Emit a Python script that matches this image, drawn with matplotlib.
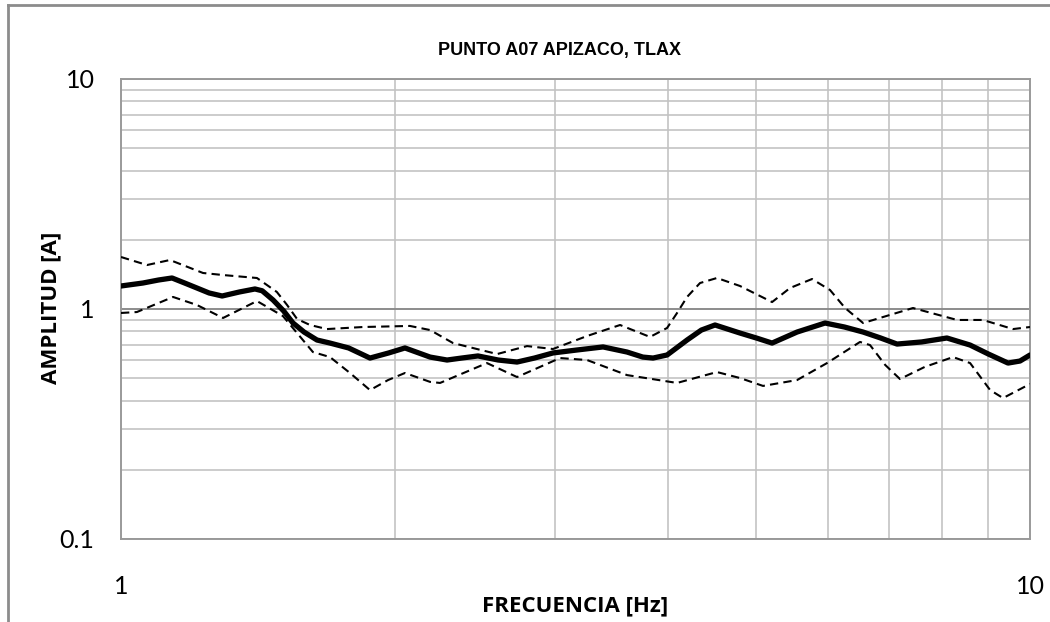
import matplotlib
matplotlib.use("Agg")
import matplotlib.pyplot as plt
from matplotlib.ticker import LogLocator, NullFormatter, FixedLocator, FixedFormatter
from matplotlib.lines import Line2D

# curva promedio (H/V)
f_prom = [1.00, 1.057, 1.10, 1.138, 1.175, 1.212, 1.25, 1.292, 1.35, 1.404, 1.43, 1.470,
          1.51, 1.546, 1.59, 1.643, 1.698, 1.78, 1.879, 1.97, 2.053, 2.188, 2.284, 2.37,
          2.470, 2.60, 2.727, 2.85, 2.987, 3.17, 3.391, 3.603, 3.75, 3.849, 3.988, 4.195,
          4.35, 4.503, 4.797, 5.0, 5.203, 5.543, 5.950, 6.25, 6.552, 6.85, 7.140, 7.6,
          8.102, 8.592, 9.0, 9.459, 9.75, 10.0]
a_prom = [1.259, 1.297, 1.337, 1.364, 1.297, 1.234, 1.174, 1.139, 1.186, 1.222, 1.20, 1.094,
          0.98, 0.869, 0.794, 0.733, 0.711, 0.677, 0.612, 0.644, 0.677, 0.618, 0.600, 0.612,
          0.625, 0.600, 0.588, 0.612, 0.644, 0.663, 0.684, 0.650, 0.618, 0.612, 0.631, 0.733,
          0.81, 0.852, 0.786, 0.748, 0.711, 0.794, 0.869, 0.835, 0.794, 0.748, 0.704, 0.719,
          0.748, 0.697, 0.637, 0.582, 0.594, 0.631]

# promedio + desviacion
f_sup = [1.00, 1.068, 1.132, 1.231, 1.295, 1.411, 1.484, 1.523, 1.562, 1.614, 1.685,
         1.846, 2.079, 2.188, 2.319, 2.593, 2.797, 2.987, 3.256, 3.540, 3.819, 3.988,
         4.09, 4.195, 4.335, 4.525, 4.797, 5.203, 5.445, 5.757, 6.026, 6.26, 6.552, 7.435,
         8.313, 8.877, 9.579, 10.0]
a_sup = [1.683, 1.553, 1.633, 1.434, 1.405, 1.364, 1.186, 1.041, 0.905, 0.852, 0.818,
         0.835, 0.844, 0.810, 0.711, 0.637, 0.690, 0.670, 0.763, 0.852, 0.756, 0.827,
         0.961, 1.128, 1.297, 1.364, 1.259, 1.072, 1.234, 1.350, 1.209, 1.010, 0.869, 1.010,
         0.896, 0.896, 0.818, 0.835]

# promedio - desviacion
f_inf = [1.00, 1.041, 1.141, 1.212, 1.295, 1.411, 1.507, 1.626, 1.698, 1.786, 1.879,
         1.967, 2.053, 2.188, 2.244, 2.527, 2.727, 3.041, 3.256, 3.603, 4.090, 4.525,
         4.797, 5.085, 5.543, 5.980, 6.501, 6.668, 6.93, 7.194, 7.66, 8.229, 8.592, 9.04,
         9.340, 10.0]
a_inf = [0.961, 0.970, 1.128, 1.041, 0.914, 1.083, 0.932, 0.650, 0.618, 0.527, 0.444,
         0.491, 0.527, 0.482, 0.477, 0.582, 0.506, 0.612, 0.600, 0.516, 0.477, 0.532,
         0.501, 0.463, 0.491, 0.582, 0.719, 0.697, 0.571, 0.496, 0.56, 0.618, 0.582, 0.444,
         0.410, 0.472]

titulo = "PUNTO A07 APIZACO, TLAX"

fig = plt.figure(figsize=(10.5, 6.22), dpi=100)
ax = fig.add_axes([121/1050, 1-539/622, 909/1050, 460/622])

ax.set_xscale("log")
ax.set_yscale("log")
ax.set_xlim(1, 10)
ax.set_ylim(0.1, 10)

estilo = dict(color="black", solid_joinstyle="round", dash_joinstyle="round")
ax.plot(f_sup, a_sup, lw=1.5, ls=(0, (4, 2.5)), zorder=3, **estilo)
ax.plot(f_inf, a_inf, lw=1.5, ls=(0, (4, 2.5)), zorder=3, **estilo)
ax.plot(f_prom, a_prom, lw=3.8, zorder=4, solid_capstyle="round", **estilo)

# rejilla
ax.xaxis.set_major_locator(FixedLocator([1, 10]))
ax.xaxis.set_major_formatter(FixedFormatter(["1", "10"]))
ax.xaxis.set_minor_locator(LogLocator(base=10, subs=range(2, 10)))
ax.xaxis.set_minor_formatter(NullFormatter())
ax.yaxis.set_major_locator(FixedLocator([0.1, 1, 10]))
ax.yaxis.set_major_formatter(FixedFormatter(["0.1", "1", "10"]))
ax.yaxis.set_minor_locator(LogLocator(base=10, subs=range(2, 10)))
ax.yaxis.set_minor_formatter(NullFormatter())
ax.grid(True, which="minor", color="#c3c3c3", lw=1.2)
ax.grid(True, which="major", axis="x", color="#c3c3c3", lw=1.2)
ax.grid(True, which="major", axis="y", color="#8c8c8c", lw=1.4)
ax.set_axisbelow(True)
for s in ax.spines.values():
    s.set_color("#9a9a9a")
    s.set_linewidth(1.4)

ax.tick_params(which="both", length=0)
ax.tick_params(axis="x", pad=26, labelsize=18)
ax.tick_params(axis="y", pad=19, labelsize=18)
for t in ax.get_xticklabels() + ax.get_yticklabels():
    t.set_fontfamily("Lato")

fig.text(575/1050, 1-606/622, "FRECUENCIA [Hz]", ha="center", va="center",
         fontsize=16, fontweight="bold", family="Open Sans")
fig.text(51/1050, 1-308/622, "AMPLITUD [A]", ha="center", va="center", rotation=90,
         fontsize=16, fontweight="bold", family="Open Sans")
fig.text(560/1050, 1-51/622, titulo, ha="center", va="center", fontsize=13,
         fontweight="bold", family="Liberation Sans")

# marco del grafico
fig.add_artist(Line2D([8/1050, 8/1050], [0, 1-5/622], color="#8c8c8c", lw=2, transform=fig.transFigure))
fig.add_artist(Line2D([8/1050, 1], [1-5/622, 1-5/622], color="#8c8c8c", lw=2, transform=fig.transFigure))

fig.savefig("out.png", dpi=100, facecolor="white")
